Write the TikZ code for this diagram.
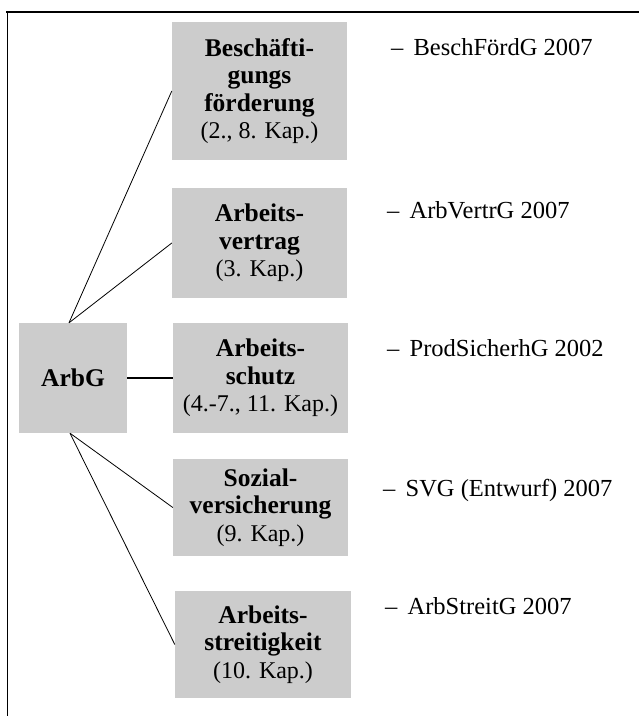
\documentclass[tikz,border=0pt]{standalone}
\usepackage{fontspec}
\setmainfont{Liberation Serif}
\definecolor{boxgray}{HTML}{CCCCCC}
\newcommand\bxt[1]{{\fontsize{25.5}{27.5}\selectfont\bfseries #1}}
\begin{document}
\begin{tikzpicture}[x=1pt,y=-1pt,
  gbox/.style={fill=boxgray,draw=none,align=center,inner sep=0pt,
    font=\fontsize{24}{27.5}\selectfont},
  lawlabel/.style={anchor=west,inner sep=0pt,font=\fontsize{24.5}{28}\selectfont},
  conn/.style={line width=0.8pt}]
\useasboundingbox (0,0) rectangle (639,716);
% frame
\coordinate (ftl) at (6,11.5);
\coordinate (ftr) at (639,11.5);
\coordinate (fbl) at (7,716);
\draw[line width=2pt] (ftl) -- (ftr);
\draw[line width=1pt] (7,11) -- (fbl);
% boxes
\node[gbox,minimum width=108pt,minimum height=110pt] (arbg) at (73,378) {\bxt{ArbG}};
\node[gbox,minimum width=175pt,minimum height=138pt] (b1) at (259.5,91)
  {\bxt{Beschäfti-}\\\bxt{gungs}\\\bxt{förderung}\\(2., 8. Kap.)};
\node[gbox,minimum width=175pt,minimum height=110pt] (b2) at (259.5,243)
  {\bxt{Arbeits-}\\\bxt{vertrag}\\(3. Kap.)};
\node[gbox,minimum width=175pt,minimum height=110pt] (b3) at (260.5,378)
  {\bxt{Arbeits-}\\\bxt{schutz}\\(4.-7., 11. Kap.)};
\node[gbox,minimum width=175pt,minimum height=97pt] (b4) at (260.5,507.5)
  {\bxt{Sozial-}\\\bxt{versicherung}\\(9. Kap.)};
\node[gbox,minimum width=176pt,minimum height=107pt] (b5) at (263,644.5)
  {\bxt{Arbeits-}\\\bxt{streitigkeit}\\(10. Kap.)};
% labels
\node[lawlabel] (l1) at (391,47) {–\, BeschFördG 2007};
\node[lawlabel] (l2) at (387,210) {–\, ArbVertrG 2007};
\node[lawlabel] (l3) at (387,348) {–\, ProdSicherhG 2002};
\node[lawlabel] (l4) at (383,490) {–\, SVG (Entwurf) 2007};
\node[lawlabel] (l5) at (385,606) {–\, ArbStreitG 2007};
% connectors
\draw[conn] ([xshift=-4pt]arbg.north) -- (b1.west);
\draw[conn] ([xshift=-4pt]arbg.north) -- (b2.west);
\draw[line width=1.6pt] (arbg.east) -- (b3.west);
\draw[conn] ([xshift=-3pt]arbg.south) -- (b4.west);
\draw[conn] ([xshift=-3pt]arbg.south) -- (b5.west);
\end{tikzpicture}
\end{document}
